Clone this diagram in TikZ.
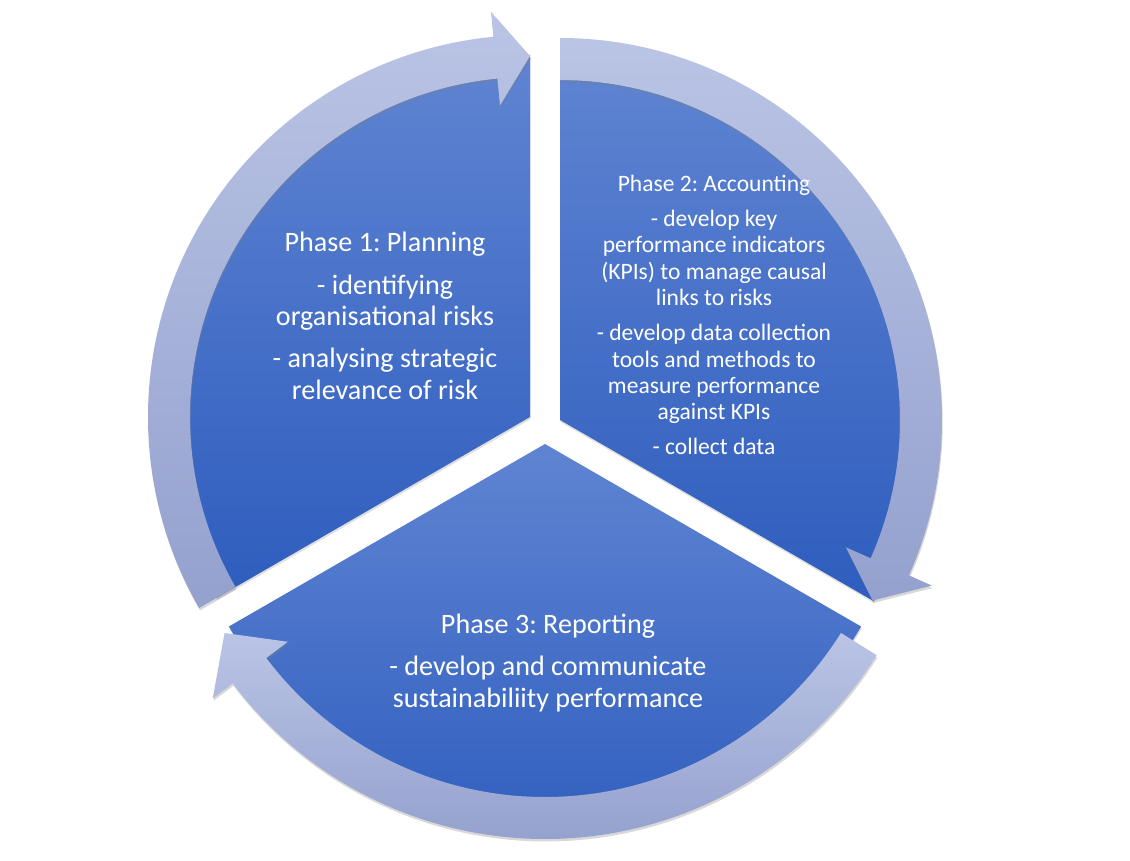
\documentclass[tikz,border=0pt]{standalone}
\usepackage{fontspec}
\setmainfont{Carlito}
\frenchspacing
\usetikzlibrary{shadows}

\definecolor{segtop}{RGB}{95,132,210}
\definecolor{segbot}{RGB}{46,93,190}
\definecolor{ringtop}{RGB}{186,196,229}
\definecolor{ringbot}{RGB}{148,161,206}

\begin{document}
\begin{tikzpicture}[
    x=0.02cm, y=0.02cm,
    segment/.style={top color=segtop, bottom color=segbot,
        drop shadow={opacity=0.25, shadow xshift=0.4pt, shadow yshift=-1.2pt}},
    ring/.style={top color=ringtop, bottom color=ringbot,
        drop shadow={opacity=0.3, shadow xshift=0.4pt, shadow yshift=-1.4pt}},
    phase/.style={text=white, align=center, font=\fontsize{16}{18}\selectfont},
    small phase/.style={phase, font=\fontsize{13.4}{15}\selectfont}
]
\useasboundingbox[fill=white] (0,0) rectangle (1130,860);

% apex of each segment
\coordinate (c1) at (530,443);
\coordinate (c2) at (560,440);
\coordinate (c3) at (545,416);
\coordinate (r3) at (545,412);

\path[segment] (c1) -- ++(90:362) arc[start angle=90, end angle=210, radius=362] -- cycle;
\path[segment] (c2) -- ++(90:362) arc[start angle=90, end angle=-30, radius=362] -- cycle;
\path[segment] (c3) -- ++(210:365) arc[start angle=210, end angle=330, radius=365] -- cycle;

% circular arrows: centre/inner/outer/start/head base/tip
\foreach \c/\ri/\ro/\sa/\ba/\ta in {c1/340/382/210/95.5/90, c2/340/382/90/-24/-30, r3/349/391/-32/-143/-150} {
    \path[ring, shift={(\c)}] (\sa:\ro) arc[start angle=\sa, end angle=\ba, radius=\ro]
        -- (\ba:{\ro+25}) -- (\ta:{(\ri+\ro)/2}) -- (\ba:{\ri-27}) -- (\ba:\ri)
        arc[start angle=\ba, end angle=\sa, radius=\ri] -- cycle;
}

\node[phase] (phase1) at (385,544) {Phase 1: Planning\\[6pt] - identifying\\ organisational risks\\[6pt] - analysing strategic\\ relevance of risk};
\node[small phase] (phase2) at (714,545) {Phase 2: Accounting\\[5pt] - develop key\\ performance indicators\\ (KPIs) to manage causal\\ links to risks\\[5pt] - develop data collection\\ tools and methods to\\ measure performance\\ against KPIs\\[5pt] - collect data};
\node[phase] (phase3) at (548,197) {Phase 3: Reporting\\[6pt] - develop and communicate\\ sustainabiliity performance};
\end{tikzpicture}
\end{document}
